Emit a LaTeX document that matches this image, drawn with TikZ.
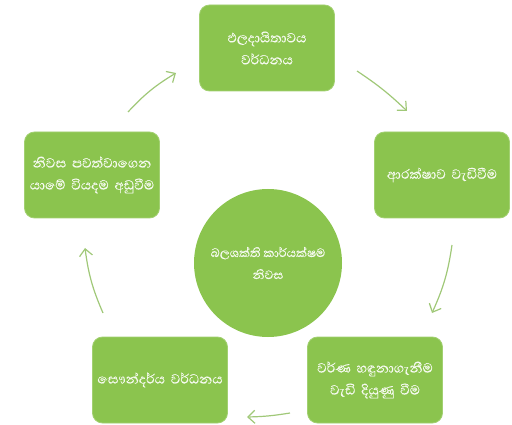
\documentclass[tikz,border=0pt]{standalone}
\usepackage{fontspec}
\newfontfamily\sinhala[Script=Sinhala,FakeBold=0.15]{Abhaya Libre}
\usetikzlibrary{arrows.meta}
\definecolor{boxgreen}{RGB}{139,196,78}
\definecolor{arrowgreen}{RGB}{160,200,120}
\definecolor{textwhite}{RGB}{246,250,240}
\tikzset{
  box/.style={fill=boxgreen, draw=boxgreen!80!white, line width=0.8pt, rounded corners=10pt,
    minimum width=135pt, minimum height=86pt, text width=128pt, inner sep=2pt, align=center,
    text=textwhite, font=\sinhala\fontsize{17}{22}\selectfont},
  hub/.style={circle, fill=boxgreen, minimum size=148pt, inner sep=0pt, align=center,
    text=textwhite, font=\sinhala\fontsize{15.5}{22}\selectfont},
  flow/.style={draw=arrowgreen, line width=1.2pt, -{Straight Barb[length=7pt,width=13pt,line width=1.2pt]}}
}
\begin{document}
\begin{tikzpicture}[x=1pt,y=-1pt]
\useasboundingbox (0,0) rectangle (512,425);
\node[hub] (c) at (268,263) {බලශක්ති කාර්යක්ෂම\\නිවස};
\node[box] (t) at (267,48) {ඵලදායිතාවය\\වර්ධනය};
\node[box] (r) at (442,175) {ආරක්ෂාව වැඩිවීම};
\node[box] (l) at (92,175) {නිවස පවත්වාගෙන\\යාමේ වියදම අඩුවීම};
\node[box] (br) at (375,380) {වර්ණ හඳුනාගැනීම\\වැඩි දියුණු වීම};
\node[box] (bl) at (160,380) {සෞන්දර්ය වර්ධනය};
\coordinate (a1s) at (128,112); \coordinate (a1e) at (176,73);
\coordinate (a2s) at (357,71);  \coordinate (a2e) at (407,111);
\coordinate (a3s) at (452,245); \coordinate (a3e) at (432,313);
\coordinate (a4s) at (290,413); \coordinate (a4e) at (247,417);
\coordinate (a5s) at (103,313); \coordinate (a5e) at (85,248);
\draw[flow] (a1s) to[bend left=8] (a1e);
\draw[flow] (a2s) to[bend left=5] (a2e);
\draw[flow] (a3s) to[bend left=8] (a3e);
\draw[flow] (a4s) to[bend left=4] (a4e);
\draw[flow] (a5s) to[bend left=8] (a5e);
\end{tikzpicture}
\end{document}
